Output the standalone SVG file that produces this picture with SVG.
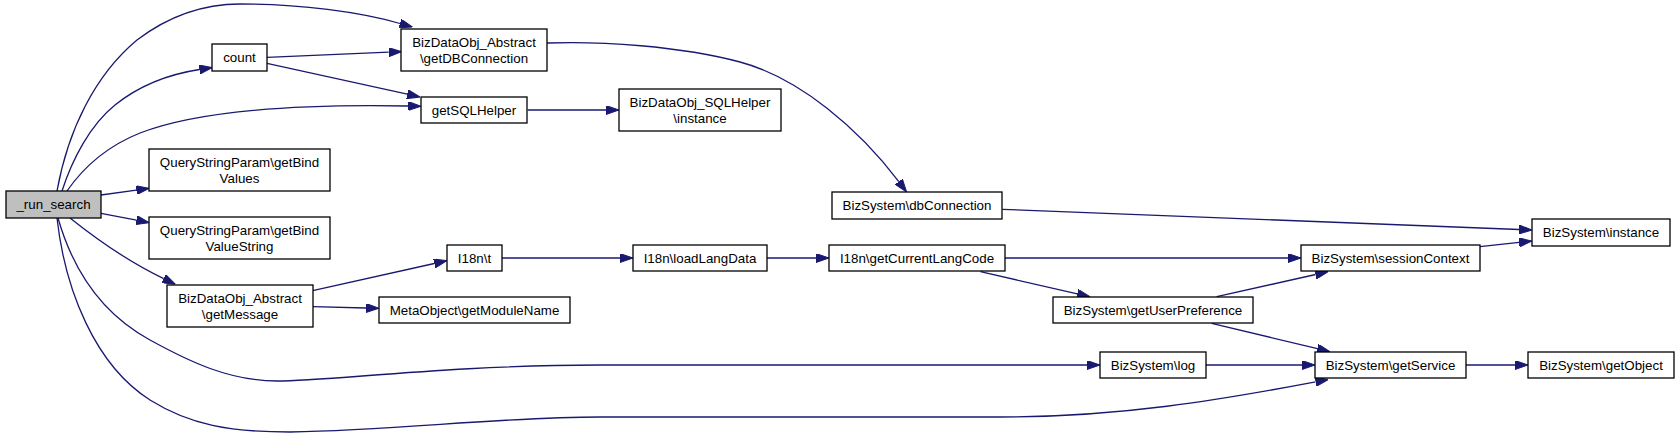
<svg xmlns="http://www.w3.org/2000/svg" width="1680" height="439" viewBox="0 0 1680 439">
<style>
.node rect{fill:#ffffff;stroke:#000000;stroke-width:1.3}
.node.root rect{fill:#bfbfbf}
.node text{font-family:"Liberation Sans",Arial,Helvetica,sans-serif;font-size:13.33px;fill:#000000;text-anchor:middle}
.edges path{fill:none;stroke:#191970;stroke-width:1.3;marker-end:url(#arrow)}
</style>
<defs>
<marker id="arrow" viewBox="0 0 13 9" refX="0" refY="4.5" markerWidth="13" markerHeight="9" markerUnits="userSpaceOnUse" orient="auto">
<path d="M0,0 L13,4.5 L0,9 z" fill="#191970" stroke="#191970" stroke-width="1"/>
</marker>
</defs>
<rect width="1680" height="439" fill="#ffffff"/>
<g class="edges" id="edges">
<path id="e1" d="M57,191 C68,130 95,75 137,40 C170,15 205,4 240,4 C300,4 360,12 400,23.5"/>
<path id="e2" d="M62,191 C72,160 90,125 115,105 C140,85 170,74 199.5,69.5"/>
<path id="e3" d="M67,191 C85,165 110,145 140,133 C200,110 300,104 408,106"/>
<path id="e4" d="M101,195 L136.4,190.1"/>
<path id="e5" d="M101,213.3 L136.5,220.2"/>
<path id="e6" d="M70,218 C95,238 125,260 163.7,278.6"/>
<path id="e7" d="M58,218 C70,260 95,310 150,340 C190,362 230,381 277,381 C330,381 450,365 600,365 L1087,365"/>
<path id="e8" d="M57,218 C65,290 95,365 150,400 C190,425 230,432 290,432 C400,430 500,417 600,417 L1000,417 C1120,417 1220,400 1315.6,381.9"/>
<path id="e9" d="M267,57.3 L388.7,52.2"/>
<path id="e10" d="M267,63.3 L407.3,94.2"/>
<path id="e11" d="M527.7,110 L606,110"/>
<path id="e12" d="M547,43 C600,41 680,46 740,62 C800,78 860,130 898.8,181.7"/>
<path id="e13" d="M1002.4,209.3 L1519,229.5"/>
<path id="e14" d="M312.7,290.7 L434.3,263.5"/>
<path id="e15" d="M312.7,306.7 L366,308"/>
<path id="e16" d="M502,258 L620,258"/>
<path id="e17" d="M767,258 L816,258"/>
<path id="e18" d="M1005,258 L1288,258"/>
<path id="e19" d="M980.5,271.7 L1077.3,293.8"/>
<path id="e20" d="M1216.7,296.7 L1315.6,274.5"/>
<path id="e21" d="M1211.7,323.3 L1317.4,348.7"/>
<path id="e22" d="M1480,246.7 L1519.1,242.4"/>
<path id="e23" d="M1206,365 L1302,365"/>
<path id="e24" d="M1466,365 L1515,365"/>
</g>
<g class="node root" id="n_run_search"><rect x="6" y="191" width="95" height="27"/><text x="53.5" y="209.3">_run_search</text></g>
<g class="node" id="n_count"><rect x="212" y="44" width="55" height="27"/><text x="239.5" y="62.3">count</text></g>
<g class="node" id="n_getDBConnection"><rect x="401" y="29" width="146" height="42"/><text x="474" y="47">BizDataObj_Abstract</text><text x="474" y="63">\getDBConnection</text></g>
<g class="node" id="n_getSQLHelper"><rect x="421" y="97" width="106" height="26"/><text x="474" y="114.8">getSQLHelper</text></g>
<g class="node" id="n_sqlhelper_instance"><rect x="619" y="89" width="162" height="42"/><text x="700" y="107">BizDataObj_SQLHelper</text><text x="700" y="123">\instance</text></g>
<g class="node" id="n_getBindValues"><rect x="149" y="149" width="181" height="42"/><text x="239.5" y="167">QueryStringParam\getBind</text><text x="239.5" y="183">Values</text></g>
<g class="node" id="n_getBindValueString"><rect x="149" y="217" width="181" height="42"/><text x="239.5" y="235">QueryStringParam\getBind</text><text x="239.5" y="251">ValueString</text></g>
<g class="node" id="n_getMessage"><rect x="167" y="285" width="146" height="42"/><text x="240" y="303">BizDataObj_Abstract</text><text x="240" y="319">\getMessage</text></g>
<g class="node" id="n_i18n_t"><rect x="447" y="245" width="55" height="26"/><text x="474.5" y="262.8">I18n\t</text></g>
<g class="node" id="n_getModuleName"><rect x="379" y="297" width="191" height="26"/><text x="474.5" y="314.8">MetaObject\getModuleName</text></g>
<g class="node" id="n_loadLangData"><rect x="633" y="245" width="134" height="26"/><text x="700" y="262.8">I18n\loadLangData</text></g>
<g class="node" id="n_getCurrentLangCode"><rect x="829" y="245" width="176" height="26"/><text x="917" y="262.8">I18n\getCurrentLangCode</text></g>
<g class="node" id="n_dbConnection"><rect x="832" y="192" width="170" height="27"/><text x="917" y="210.3">BizSystem\dbConnection</text></g>
<g class="node" id="n_getUserPreference"><rect x="1053" y="297" width="200" height="26"/><text x="1153" y="314.8">BizSystem\getUserPreference</text></g>
<g class="node" id="n_sessionContext"><rect x="1301" y="245" width="179" height="26"/><text x="1390.5" y="262.8">BizSystem\sessionContext</text></g>
<g class="node" id="n_instance"><rect x="1532" y="219" width="138" height="27"/><text x="1601" y="237.3">BizSystem\instance</text></g>
<g class="node" id="n_log"><rect x="1100" y="352" width="106" height="26"/><text x="1153" y="369.8">BizSystem\log</text></g>
<g class="node" id="n_getService"><rect x="1315" y="352" width="151" height="26"/><text x="1390.5" y="369.8">BizSystem\getService</text></g>
<g class="node" id="n_getObject"><rect x="1528" y="352" width="146" height="26"/><text x="1601" y="369.8">BizSystem\getObject</text></g>
</svg>
